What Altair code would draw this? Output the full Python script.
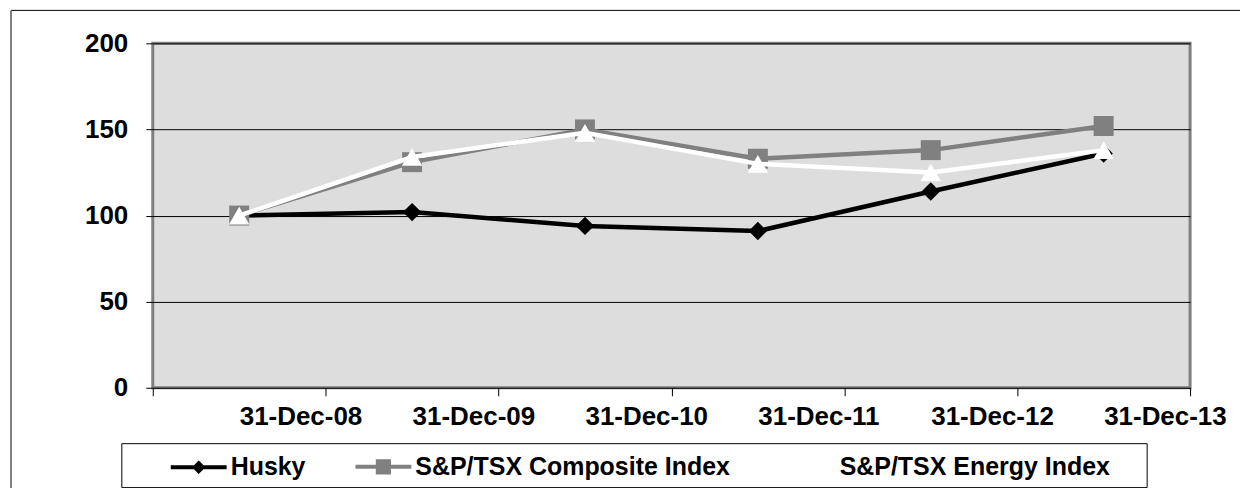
import altair as alt
import pandas as pd

dates = ["31-Dec-08", "31-Dec-09", "31-Dec-10", "31-Dec-11", "31-Dec-12", "31-Dec-13"]
husky = [100, 102, 94, 91, 114, 136]
composite = [100, 131, 150, 133, 138, 152]
energy = [100, 134, 148, 130, 125, 138]
series_names = ["Husky", "S&P/TSX Composite Index", "S&P/TSX Energy Index"]
series_colors = ["#000000", "#808080", "#ffffff"]
marker_shapes = ["diamond", "square", "triangle-up"]
marker_sizes = [340, 400, 420]
legend_paths = [
    "M-1,0L1,0M0,-0.14L0.14,0L0,0.14L-0.14,0Z",
    "M-1,0L1,0M-0.2,-0.2L0.2,-0.2L0.2,0.2L-0.2,0.2Z",
    "M-1,0L1,0M0,-0.22L0.22,0.18L-0.22,0.18Z",
]

rows = []
for name, vals in zip(series_names, [husky, composite, energy]):
    for d, v in zip(dates, vals):
        rows.append({"date": d, "series": name, "value": v})
df = pd.DataFrame(rows)

W, H = 1039, 345
FONT = "Liberation Sans"

xenc = alt.X(
    "date:N",
    sort=dates,
    bandPosition=0.5,
    scale=alt.Scale(type="band", domain=dates, paddingInner=0, paddingOuter=0),
    axis=alt.Axis(
        title=None, tickBand="extent", labelAlign="left", labelPadding=8, tickSize=8,
        domain=False, grid=False, labelAngle=0, labelFontSize=26,
        labelFontWeight="bold", labelColor="black", tickColor="black",
        labelFont=FONT, labelLimit=0,
    ),
)
yenc = alt.Y(
    "value:Q",
    scale=alt.Scale(domain=[0, 200], nice=False),
    axis=alt.Axis(
        title=None, values=[0, 50, 100, 150, 200], tickSize=7, labelPadding=18,
        domain=False, grid=True, gridColor="#000000", gridWidth=1, gridOpacity=1,
        labelFontSize=26, labelFontWeight="bold", labelColor="black",
        tickColor="black", labelFont=FONT,
    ),
)

layers = []
for name, col, shp, sz in zip(series_names, series_colors, marker_shapes, marker_sizes):
    base = alt.Chart(df).transform_filter(alt.datum.series == name)
    layers.append(base.mark_line(color=col, strokeWidth=4.5).encode(x=xenc, y=yenc))
    layers.append(
        base.mark_point(shape=shp, filled=True, size=sz, color=col, opacity=1).encode(x=xenc, y=yenc)
    )

leg = alt.Legend(
    title=None, orient="none", legendX=16, legendY=394, direction="horizontal",
    columnPadding=41, labelOffset=2, padding=0, labelFontSize=25,
    labelFontWeight="bold", labelFont=FONT, labelColor="black", labelLimit=0,
    symbolSize=3136, symbolStrokeWidth=4, rowPadding=0,
)
legend_layer = alt.Chart(df).transform_filter("false").mark_point(filled=True, opacity=1).encode(
    x=xenc, y=yenc,
    shape=alt.Shape("series:N", scale=alt.Scale(domain=series_names, range=legend_paths), legend=leg),
    fill=alt.Fill("series:N", scale=alt.Scale(domain=series_names, range=series_colors), legend=leg),
    stroke=alt.Stroke("series:N", scale=alt.Scale(domain=series_names, range=series_colors), legend=leg),
)
layers.append(legend_layer)

one = alt.Data(values=[{}])
legend_box = alt.Chart(one).mark_rect(fill="transparent", stroke="black", strokeWidth=1).encode(
    x=alt.value(-31), x2=alt.value(996), y=alt.value(401), y2=alt.value(445)
)
top_border = alt.Chart(one).mark_rule(color="black", strokeWidth=1).encode(
    x=alt.value(-142), x2=alt.value(1200), y=alt.value(-33)
)
left_border = alt.Chart(one).mark_rule(color="#808080", strokeWidth=2).encode(
    x=alt.value(-142), y=alt.value(-33), y2=alt.value(470)
)
layers += [legend_box, top_border, left_border]

chart = alt.layer(*layers).properties(
    width=W, height=H,
    background="white",
    autosize=alt.AutoSizeParams(type="none"),
    padding={"left": 145, "top": 35, "right": 50, "bottom": 100},
).configure_view(
    fill="#dddddd", stroke="#808080", strokeWidth=3
)

chart.save("out.html", embed_options={"renderer": "svg", "actions": False})
